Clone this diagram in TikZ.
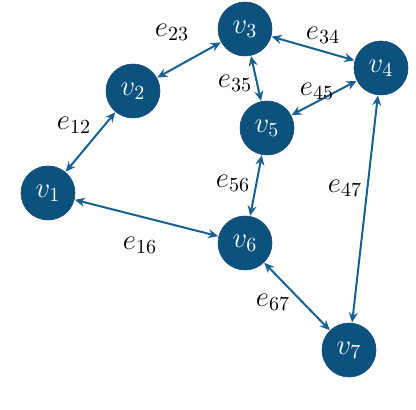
\documentclass[tikz,border=0pt]{standalone}
\usepackage{tikz}
\usetikzlibrary{arrows.meta}
\definecolor{vertexColor}{HTML}{0B527F}
\definecolor{vertexLine}{HTML}{1A4A70}
\definecolor{edgeColor}{HTML}{17608F}
\tikzset{
    vertex/.style={
        circle,
        fill=vertexColor,
        draw=vertexLine,
        line width=0.3pt,
        minimum size=27pt,
        inner sep=0pt,
        text=white,
        font=\Large,
    },
    link/.style={
        {Stealth[length=5pt,width=4.5pt]}-{Stealth[length=5pt,width=4.5pt]},
        line width=1pt,
        draw=edgeColor,
        shorten <=0.2pt,
        shorten >=0.2pt,
    },
    edge label/.style={
        font=\Large,
        text=black,
        inner sep=1pt,
    },
}

\begin{document}
\begin{tikzpicture}[x=0.5pt, y=-0.5pt]

\useasboundingbox (0,0) rectangle (416,410);

% ── VERTICES ───────────────────────────────────────────────────────

\node[vertex] (v1) at (48, 193) {$v_1$};
\node[vertex] (v2) at (133, 91) {$v_2$};
\node[vertex] (v3) at (245, 29) {$v_3$};
\node[vertex] (v4) at (381, 68) {$v_4$};
\node[vertex] (v5) at (267, 128) {$v_5$};
\node[vertex] (v6) at (245, 243) {$v_6$};
\node[vertex] (v7) at (349, 350) {$v_7$};

% ── EDGES ──────────────────────────────────────────────────────────

\draw[link] (v1) -- (v2);
\draw[link] (v2) -- (v3);
\draw[link] (v3) -- (v4);
\draw[link] (v3) -- (v5);
\draw[link] (v4) -- (v5);
\draw[link] (v4) -- (v7);
\draw[link] (v5) -- (v6);
\draw[link] (v1) -- (v6);
\draw[link] (v6) -- (v7);

% ── EDGE LABELS ────────────────────────────────────────────────────

\node[edge label] (e12) at (74, 125) {$e_{12}$};
\node[edge label] (e23) at (172, 32) {$e_{23}$};
\node[edge label] (e34) at (323, 35) {$e_{34}$};
\node[edge label] (e35) at (235, 83) {$e_{35}$};
\node[edge label] (e45) at (317, 91) {$e_{45}$};
\node[edge label] (e56) at (233, 183) {$e_{56}$};
\node[edge label] (e47) at (345, 188) {$e_{47}$};
\node[edge label] (e16) at (140, 245) {$e_{16}$};
\node[edge label] (e67) at (273, 302) {$e_{67}$};

\end{tikzpicture}
\end{document}
